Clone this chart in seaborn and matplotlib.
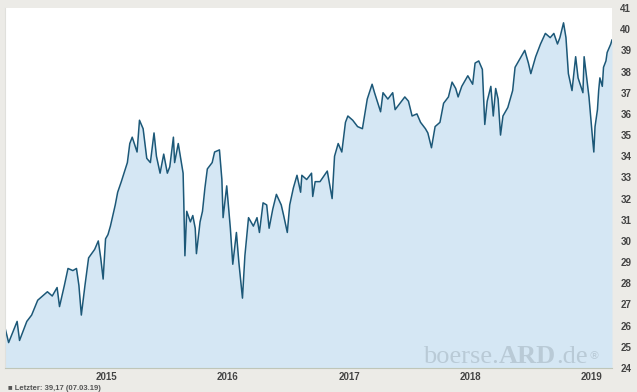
import numpy as np
import pandas as pd
import matplotlib
matplotlib.use('Agg')
import matplotlib.pyplot as plt
import seaborn as sns

years = [2014.16, 2014.19, 2014.26, 2014.28, 2014.34, 2014.38, 2014.43, 2014.47, 2014.51, 2014.55,
         2014.59, 2014.61, 2014.65, 2014.68, 2014.72, 2014.75, 2014.77, 2014.79, 2014.82, 2014.85,
         2014.90, 2014.93, 2014.95, 2014.97, 2014.99, 2015.01, 2015.03, 2015.07, 2015.09, 2015.12,
         2015.17, 2015.19, 2015.21, 2015.25, 2015.27, 2015.30, 2015.33, 2015.36, 2015.39, 2015.41,
         2015.44, 2015.47, 2015.50, 2015.52, 2015.55, 2015.56, 2015.59, 2015.61, 2015.63, 2015.635,
         2015.645, 2015.66, 2015.69, 2015.71, 2015.73, 2015.74, 2015.77, 2015.79, 2015.81, 2015.83,
         2015.87, 2015.89, 2015.93, 2015.95, 2015.96, 2015.99, 2016.02, 2016.04, 2016.07, 2016.09,
         2016.12, 2016.14, 2016.17, 2016.21, 2016.24, 2016.26, 2016.29, 2016.32, 2016.34, 2016.37,
         2016.40, 2016.44, 2016.46, 2016.49, 2016.51, 2016.54, 2016.57, 2016.60, 2016.61, 2016.65,
         2016.69, 2016.70, 2016.72, 2016.74, 2016.76, 2016.82, 2016.86, 2016.88, 2016.91, 2016.94,
         2016.97, 2016.99, 2017.03, 2017.07, 2017.11, 2017.15, 2017.19, 2017.21, 2017.26, 2017.28,
         2017.32, 2017.36, 2017.38, 2017.42, 2017.46, 2017.49, 2017.52, 2017.56, 2017.59, 2017.63,
         2017.65, 2017.68, 2017.71, 2017.75, 2017.78, 2017.82, 2017.85, 2017.88, 2017.90, 2017.93,
         2017.98, 2018.02, 2018.04, 2018.07, 2018.10, 2018.12, 2018.14, 2018.17, 2018.19, 2018.21,
         2018.23, 2018.25, 2018.27, 2018.31, 2018.35, 2018.37, 2018.41, 2018.45, 2018.48, 2018.50,
         2018.54, 2018.58, 2018.62, 2018.66, 2018.69, 2018.72, 2018.74, 2018.77, 2018.79, 2018.81,
         2018.84, 2018.87, 2018.89, 2018.93, 2018.94, 2018.98, 2019.01, 2019.02, 2019.03, 2019.05,
         2019.06, 2019.07, 2019.09, 2019.10, 2019.12, 2019.13, 2019.16, 2019.17]
prices = [25.9, 25.2, 26.2, 25.3, 26.2, 26.5, 27.2, 27.4, 27.6, 27.4,
          27.8, 26.9, 27.9, 28.7, 28.6, 28.7, 27.9, 26.5, 27.9, 29.2,
          29.6, 30.0, 29.2, 28.2, 30.1, 30.3, 30.7, 31.7, 32.3, 32.8,
          33.7, 34.6, 34.9, 34.2, 35.7, 35.3, 33.9, 33.7, 35.1, 34.0,
          33.2, 34.1, 33.2, 33.5, 34.9, 33.7, 34.6, 33.9, 33.2, 32.0,
          29.3, 31.4, 30.9, 31.2, 30.6, 29.4, 30.9, 31.4, 32.5, 33.4,
          33.7, 34.2, 34.3, 32.9, 31.1, 32.6, 30.6, 28.9, 30.4, 29.0,
          27.3, 29.3, 31.1, 30.7, 31.1, 30.4, 31.8, 31.7, 30.6, 31.5,
          32.2, 31.7, 31.2, 30.4, 31.7, 32.5, 33.1, 32.3, 33.1, 32.9,
          33.2, 32.1, 32.8, 32.8, 32.8, 33.3, 32.0, 34.0, 34.6, 34.2,
          35.6, 35.9, 35.7, 35.4, 35.3, 36.7, 37.4, 37.0, 36.1, 37.0,
          36.7, 37.0, 36.2, 36.5, 36.8, 36.6, 35.9, 36.0, 35.6, 35.3,
          35.1, 34.4, 35.4, 35.6, 36.5, 36.8, 37.5, 37.2, 36.8, 37.3,
          37.8, 37.4, 38.4, 38.5, 38.1, 35.5, 36.6, 37.3, 35.9, 37.2,
          36.7, 35.0, 35.9, 36.3, 37.1, 38.2, 38.6, 39.0, 38.4, 37.9,
          38.7, 39.3, 39.8, 39.6, 39.8, 39.3, 39.6, 40.3, 39.6, 37.9,
          37.1, 38.7, 37.7, 37.0, 38.7, 36.8, 34.8, 34.2, 35.4, 36.2,
          37.1, 37.7, 37.3, 38.2, 38.5, 38.9, 39.3, 39.5]

year_ticks = [2015, 2016, 2017, 2018, 2019]
price_ticks = list(range(24, 42))

df = pd.DataFrame({'jahr': years, 'kurs': prices})

sns.set_style('white')
plt.rcParams['font.family'] = ['Liberation Sans', 'DejaVu Sans']

fig = plt.figure(figsize=(6.37, 3.92), dpi=100, facecolor='#ecebe7')
ax = fig.add_axes([5 / 637, 1 - 368 / 392, 607 / 637, 360 / 392])
ax.set_facecolor('white')

ax.fill_between(df['jahr'], df['kurs'], 24, color='#d5e7f4', linewidth=0)
sns.lineplot(data=df, x='jahr', y='kurs', ax=ax, color='#1c5878', linewidth=1.1)

ax.set_xlim(df['jahr'].min(), df['jahr'].max())
ax.set_ylim(24.1, 41)
ax.set_xticks(year_ticks)
ax.set_xticklabels([str(y) for y in year_ticks])
ax.set_yticks(price_ticks)
ax.yaxis.tick_right()
ax.tick_params(axis='y', length=0, pad=6, labelsize=7, labelcolor='#444444')
ax.tick_params(axis='x', length=2, width=0.6, color='#bbbbbb', pad=1,
               labelsize=7, labelcolor='#444444')
for t in ax.get_xticklabels() + ax.get_yticklabels():
    t.set_fontweight('bold')
ax.set_xlabel('')
ax.set_ylabel('')
for side in ['top', 'right']:
    ax.spines[side].set_visible(False)
ax.spines['left'].set_color('#e0e0dc')
ax.spines['bottom'].set_color('#bfc6b8')
ax.spines['bottom'].set_linewidth(0.8)

# Wasserzeichen, Teile aneinander gehaengt
wm = dict(family='Liberation Serif', fontsize=19, color='#b9cad6')
t1 = fig.text(423 / 637, 1 - 363 / 392, 'boerse.', ha='left', va='baseline', **wm)
t2 = ax.annotate('ARD', xy=(1, 0), xycoords=t1, ha='left', va='bottom',
                 fontweight='bold', **wm)
t3 = ax.annotate('.de', xy=(1, 0), xycoords=t2, ha='left', va='bottom', **wm)
ax.annotate('®', xy=(1, 1), xycoords=t3, xytext=(1, -7), textcoords='offset points',
            ha='left', va='center', family='DejaVu Sans', fontsize=8, color='#b9cad6')

# Legende unten (im Original angeschnitten)
fig.text(8 / 637, 0.0, '■ Letzter: 39,17 (07.03.19)', fontsize=5.5,
         color='#555555', ha='left', va='bottom', fontweight='bold')

fig.savefig('out.png', dpi=100, facecolor=fig.get_facecolor())
